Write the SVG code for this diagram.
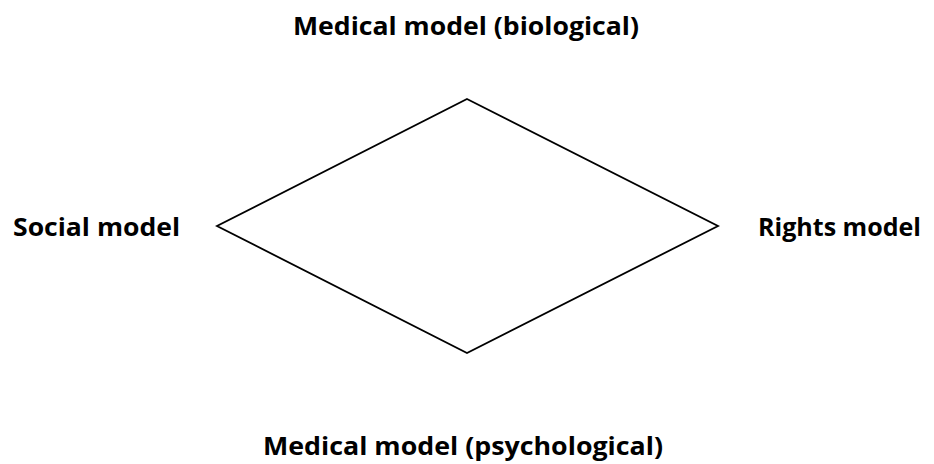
<svg xmlns="http://www.w3.org/2000/svg" width="934" height="464" viewBox="0 0 934 464">
<style>
.lbl{font-family:"Open Sans","Liberation Sans",sans-serif;font-weight:bold;font-size:25px;fill:#000}
.shape{fill:#fff;stroke:#000;stroke-width:1.8}
</style>
<rect width="934" height="464" fill="#fff"/>
<g id="diamond">
<polygon class="shape" points="467,99 718,226 467,353 217,226"/>
</g>
<g id="connectors"></g>
<g id="top-label"><text class="lbl" x="293" y="34.5" textLength="346" lengthAdjust="spacingAndGlyphs">Medical model (biological)</text></g>
<g id="left-label"><text class="lbl" x="13" y="236" textLength="167" lengthAdjust="spacingAndGlyphs">Social model</text></g>
<g id="right-label"><text class="lbl" x="758" y="236" textLength="163" lengthAdjust="spacingAndGlyphs">Rights model</text></g>
<g id="bottom-label"><text class="lbl" x="263" y="455" textLength="400" lengthAdjust="spacingAndGlyphs">Medical model (psychological)</text></g>
</svg>
